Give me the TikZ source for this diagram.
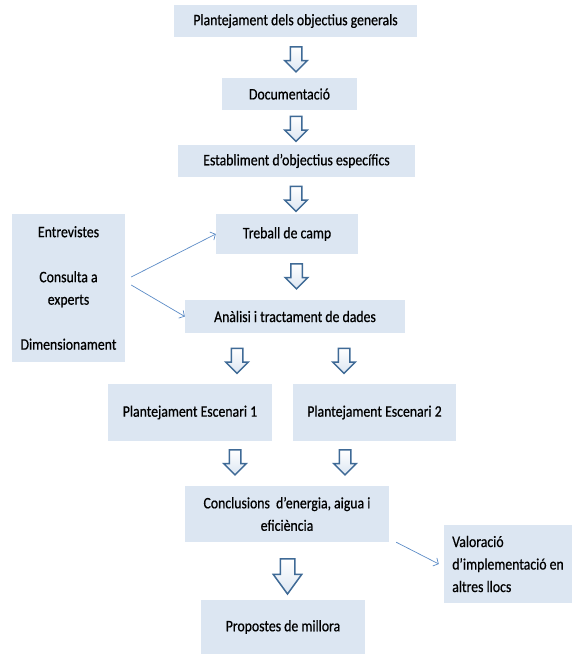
\documentclass[tikz,border=0pt]{standalone}
\usepackage{fontspec}
\setmainfont{Carlito}[FakeStretch=0.86, FakeBold=0.6]
\usetikzlibrary{shapes.arrows,arrows.meta}
\definecolor{boxfill}{HTML}{DCE6F2}
\definecolor{arrowedge}{HTML}{3F6A96}
\definecolor{linkblue}{HTML}{5B8BC6}
\tikzset{
  box/.style={fill=boxfill, text=black, align=center, inner sep=2pt,
    font=\fontsize{16}{22.5}\selectfont},
  blockarrow/.style={single arrow, draw=arrowedge, line width=1.5pt,
    top color=white, bottom color=boxfill, shape border rotate=270,
    inner sep=5pt, single arrow head extend=5.5pt, minimum height=25pt},
  bigarrow/.style={blockarrow, inner sep=6.5pt, single arrow head extend=7pt,
    single arrow tip angle=72, minimum height=35pt},
  link/.style={draw=linkblue, line width=0.7pt,
    -{Straight Barb[length=4pt,width=9pt]}},
}
\begin{document}
\begin{tikzpicture}[x=1pt, y=-1pt]
  \useasboundingbox (0,0) rectangle (572,654);

  % main column
  \node[box, minimum width=243pt, minimum height=32pt] (gen) at (295.5,21) {Plantejament dels objectius generals};
  \node[box, minimum width=135pt, minimum height=32pt] (doc) at (289.5,94) {Documentació};
  \node[box, minimum width=237pt, minimum height=32pt] (espec) at (296.5,161) {Establiment d’objectius específics};
  \node[box, minimum width=142pt, minimum height=40pt] (camp) at (287,234) {Treball de camp};
  \node[box, minimum width=220pt, minimum height=33pt] (dades) at (295,316.5) {Anàlisi i tractament de dades};

  % side box with the sources
  \node[box, minimum width=113pt, minimum height=148pt] (fonts) at (68.5,288)
    {Entrevistes\\[22.5pt]Consulta a\\experts\\[22.5pt]Dimensionament};

  % the two scenarios
  \node[box, minimum width=164pt, minimum height=57pt] (esc1) at (190,412.5) {Plantejament Escenari 1};
  \node[box, minimum width=163pt, minimum height=57pt] (esc2) at (374.5,412.5) {Plantejament Escenari 2};

  \node[box, minimum width=204pt, minimum height=56pt] (concl) at (287,514) {Conclusions \ d’energia, aigua i\\eficiència};
  \node[box, align=left, minimum width=128pt, minimum height=78pt] (valor) at (508,564) {Valoració\\d’implementació en\\altres llocs};
  \node[box, minimum width=164pt, minimum height=54pt] (millora) at (283,627) {Propostes de millora};

  % block arrows
  \node[blockarrow] (a1) at (296,56.5) {};
  \node[blockarrow] (a2) at (296,126) {};
  \node[blockarrow] (a3) at (296,196) {};
  \node[blockarrow] (a4) at (296.5,273.5) {};
  \node[blockarrow] (a5) at (237,358) {};
  \node[blockarrow] (a6) at (344,358) {};
  \node[blockarrow] (a7) at (235,459.5) {};
  \node[blockarrow] (a8) at (345,459.5) {};
  \node[bigarrow] (a9) at (287.5,571.5) {};

  % thin arrows
  \draw[link] ([xshift=6pt,yshift=11pt]fonts.east) -- (camp.west);
  \draw[link] ([xshift=6pt,yshift=3pt]fonts.east) -- (dades.west);
  \draw[link] ([xshift=7pt]concl.south east) -- ([xshift=-5pt]valor.west);
\end{tikzpicture}
\end{document}
